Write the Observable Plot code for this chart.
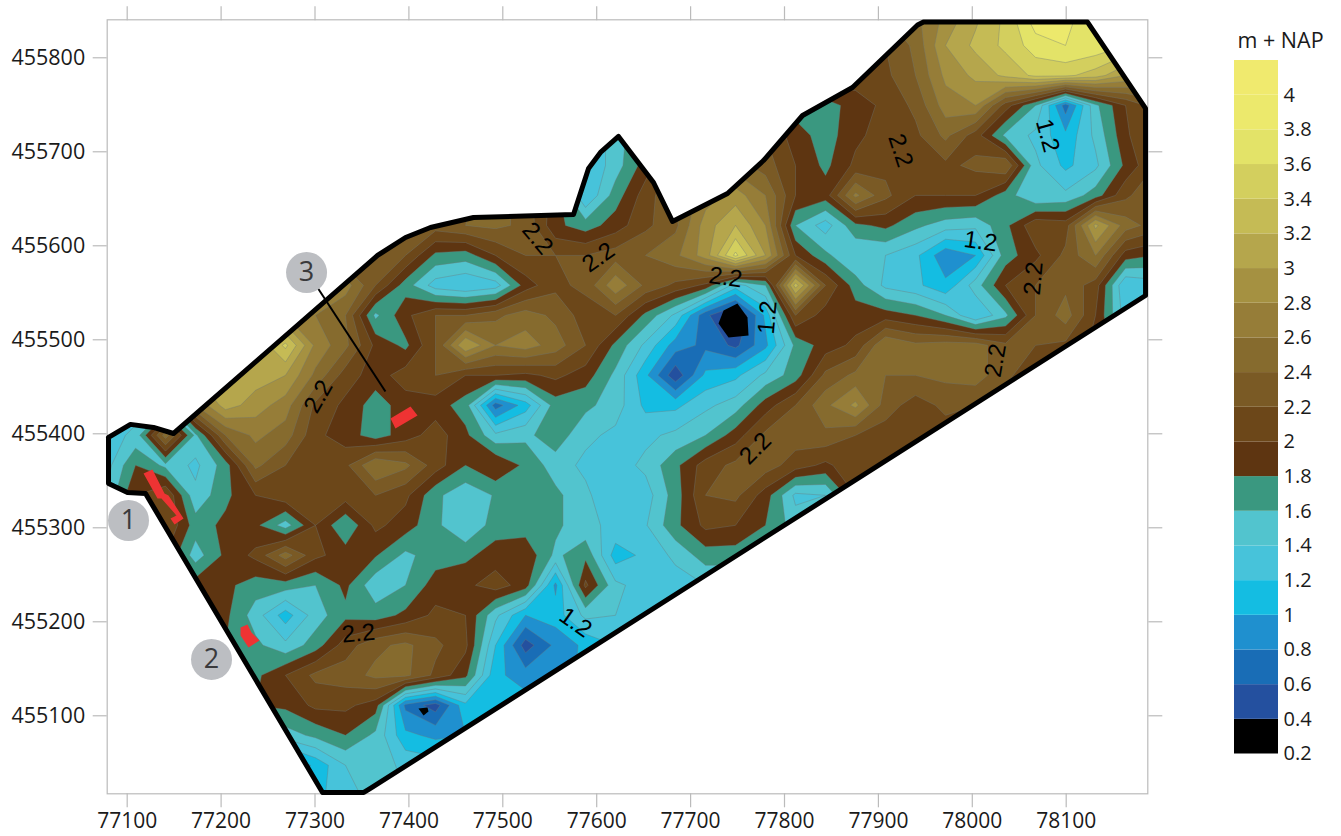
<!DOCTYPE html>
<html><head><meta charset="utf-8">
<style>html,body{margin:0;padding:0;background:#fff;overflow:hidden}#wrap{position:relative;width:1341px;height:836px}#wrap svg{position:absolute;top:0;overflow:visible}</style>
<script src="https://cdn.jsdelivr.net/npm/d3@7"></script>
<script src="https://cdn.jsdelivr.net/npm/@observablehq/plot@0.6"></script>
</head><body><div id="wrap"></div>
<script>
// Elevation (m + NAP) on a regular survey grid, north to south, west to east.
const y455845=[2.4,2.4,2.4,2.4,2.4,2.4,2.4,2.4,2.4,2.4,2.4,2.4,2.4,2.4,2.4,2.4,2.4,2.4,2.4,2.4,2.4,2.4,2.4,2.4,2.4,2.4,2.4,2.55,2.85,3.15,3.45,3.95,3.85,3.7,3.6,3.5];
const y455813=[2.3,2.3,2.3,2.3,2.3,2.3,2.3,2.3,2.3,2.3,2.3,2.3,2.3,2.3,2.3,2.3,2.3,2.3,2.3,2.3,2.3,2.3,2.3,2.3,2.3,2.3,2.2,2.45,3.0,3.25,3.45,3.7,3.8,3.75,3.6,3.4];
const y455781=[2.2,2.2,2.2,2.2,2.2,2.2,2.2,2.2,2.2,2.2,2.2,2.2,2.2,2.2,2.2,2.2,2.2,2.2,2.2,2.2,2.2,2.2,2.2,2.2,2.2,2.1,2.15,2.4,2.85,3.05,3.25,3.45,3.45,3.3,3,2.8];
const y455749=[2,2,2,2,2,2,2,2,2,2,2,2,2,2,2,2,2,2,2,2,2,2,2,1.7,1.7,1.9,2.05,2.25,2.7,2.8,2.1,1.6,0.7,1.55,2,2.3];
const y455717=[2,2,2,2,2,2,2,2,2,2,2,2,2,2,2,2,1.3,1.45,1.9,2.2,2.3,2.3,2.2,1.9,1.7,1.95,2.1,2.15,2.45,2.1,1.55,1.35,1.05,1.45,1.95,2.3];
const y455685=[2,2,2,2,2,2,2,2,2,2,2,2,2,2,2,2,1.2,1.5,1.9,2.3,2.4,2.5,2.3,2,1.75,2.05,2.15,2.2,2.15,2.25,2.4,1.45,1.15,1.35,1.85,2.2];
const y455653=[2.2,2.2,2.2,2.2,2.2,2.2,2.2,2.2,2.2,2.2,2.2,2.25,2.35,2.5,2.3,1.9,1.2,1.7,2.1,2.4,2.7,2.9,2.6,2,1.9,2.65,2.25,2,2,2,1.7,1.4,1.45,1.7,2.15,2.4];
const y455621=[2.2,2.2,2.2,2.2,2.2,2.2,2.2,2.2,2.2,2.2,2.2,2.3,2.4,2.45,2.35,1.85,1.7,1.9,2.15,2.35,2.9,3.2,2.8,1.6,1.3,1.75,1.85,1.65,1.5,1.45,1.75,2.15,2.1,3.05,2.5,2.3];
const y455589=[2.2,2.2,2.2,2.2,2.2,2.2,2.2,2.2,2.2,2.2,2.2,1.75,1.7,2,2.2,2.2,2.2,2.3,2.4,2.55,2.9,3.65,3,2,1.65,1.4,1.4,1.25,0.85,1,1.7,1.95,2.25,2.6,1.9,1.8];
const y455557=[2.8,2.8,2.8,2.8,2.8,2.8,2.8,2.8,2.7,2.2,1.7,1.3,1.2,1.3,1.9,2.15,2.25,2.75,2.35,2.15,1.95,1.3,1.6,3.3,2.2,1.7,1.35,1.25,1.05,1.5,2,2.2,2.35,2.1,1.2,1.3];
const y455525=[2.8,2.8,2.8,2.8,2.8,2.8,2.8,2.6,2.4,1.55,1.95,2.2,2.2,2.35,2.5,2.35,2.1,2.2,1.75,1.35,0.65,0.3,1.05,2.2,1.9,1.9,1.9,1.8,1.6,1.2,1.55,2.2,2.5,2,1.3,1.4];
const y455493=[3,3,3,3,3,3,3.45,2.75,2.45,1.95,1.75,2.2,3,2.6,2.7,2.5,2.2,1.75,1.35,0.9,0.75,0.55,0.95,1.65,1.9,2.05,2.6,2.45,2.5,2.5,2.25,2.2,2.15,1.95,1.6,1.5];
const y455461=[3,3,3,3,3,3.1,3,2.55,2.1,1.9,2.1,2.2,2,2,1.95,2.05,1.9,1.55,1.05,0.45,1.05,1.15,1.45,1.7,2.25,2.45,2.4,2.4,2.45,2.5,2.25,2.05,1.9,1.9,1.9,1.9];
const y455429=[1.2,1.3,1.5,2.6,3.1,2.9,2.7,2.15,1.95,1.7,1.9,1.9,1.7,0.7,1.1,1.7,1.65,1.5,1.15,1.15,1.35,1.5,1.9,2.2,2.55,2.85,2.3,2.1,2.25,2.2,2.1,2.1,2.1,2.1,2.1,2.1];
const y455397=[1.3,1.45,2.5,1.55,2.4,2.65,2.5,2.05,1.9,1.7,1.9,2.1,1.85,1.45,1.55,1.72,1.45,1.35,1.35,1.45,1.6,1.9,2.25,2.3,2.35,2.2,2.1,2.1,2.1,2.1,2.1,2.1,2.1,2.1,2.1,2.1];
const y455365=[1.3,1.8,1.55,1.35,1.7,2.45,2.2,2,2.15,2.6,2.45,2.1,1.8,2,1.75,1.5,1.35,1.3,1.45,1.75,2.1,2.25,2.3,2.1,1.95,2.15,2.1,2.1,2.1,2.1,2.1,2.1,2.1,2.1,2.1,2.1];
const y455333=[1.4,2,2.2,1.45,1.75,2,2.15,2,2.1,2.2,2.05,1.65,1.45,1.62,1.75,1.65,1.45,1.2,1.3,1.7,2.2,2.25,1.9,1.35,1.4,2,2,2,2,2,2,2,2,2,2,2];
const y455301=[2,2,2.2,1.7,1.85,1.85,1.5,2,1.62,2.05,1.9,1.65,1.4,1.7,1.7,1.65,1.45,1.35,1.38,1.75,2.05,2,1.8,1.5,1.6,1.6,1.6,1.6,1.6,1.6,1.6,1.6,1.6,1.6,1.6,1.6];
const y455269=[2,2,2,1.5,1.85,2.05,2.5,2.05,1.9,1.82,1.55,1.7,1.75,1.9,1.95,1.55,1.75,1.1,1.25,1.45,1.7,1.7,1.7,1.7,1.7,1.7,1.7,1.7,1.7,1.7,1.7,1.7,1.7,1.7,1.7,1.7];
const y455237=[1.9,1.9,1.9,1.9,1.85,1.7,1.7,1.6,1.85,1.45,1.6,1.9,1.95,2.1,1.9,0.95,2.05,1.45,1.3,1.3,1.4,1.4,1.4,1.4,1.4,1.4,1.4,1.4,1.4,1.4,1.4,1.4,1.4,1.4,1.4,1.4];
const y455205=[1.9,1.9,1.9,1.9,1.85,1.5,1.1,1.5,1.75,1.7,1.85,2.05,2,1.45,1,1.1,1.45,1.4,1.3,1.3,1.3,1.3,1.3,1.3,1.3,1.3,1.3,1.3,1.3,1.3,1.3,1.3,1.3,1.3,1.3,1.3];
const y455173=[1.8,1.8,1.8,1.8,1.8,1.65,1.45,1.7,2.1,2.35,2.45,2.25,2.05,1.2,0.5,0.85,1.05,1.2,1.2,1.2,1.2,1.2,1.2,1.2,1.2,1.2,1.2,1.2,1.2,1.2,1.2,1.2,1.2,1.2,1.2,1.2];
const y455141=[1.8,1.8,1.8,1.8,1.8,1.75,2,2.25,2.3,2.45,2.45,2.15,1.85,1.05,0.9,0.8,1.1,1.1,1.1,1.1,1.1,1.1,1.1,1.1,1.1,1.1,1.1,1.1,1.1,1.1,1.1,1.1,1.1,1.1,1.1,1.1];
const y455109=[1.8,1.8,1.8,1.8,1.8,1.8,1.85,2.05,2.05,1.9,0.75,0.5,1.15,1.1,1.1,1.1,1.1,1.1,1.1,1.1,1.1,1.1,1.1,1.1,1.1,1.1,1.1,1.1,1.1,1.1,1.1,1.1,1.1,1.1,1.1,1.1];
const y455077=[1.6,1.6,1.6,1.6,1.6,1.6,1.5,1.65,1.8,1.55,1.05,0.95,1,1.1,1.1,1.1,1.1,1.1,1.1,1.1,1.1,1.1,1.1,1.1,1.1,1.1,1.1,1.1,1.1,1.1,1.1,1.1,1.1,1.1,1.1,1.1];
const y455045=[1,1,1,1,1,1,0.75,1.05,1.4,1.5,1.35,1.3,1.3,1.3,1.3,1.3,1.3,1.3,1.3,1.3,1.3,1.3,1.3,1.3,1.3,1.3,1.3,1.3,1.3,1.3,1.3,1.3,1.3,1.3,1.3,1.3];
const y455013=[0.9,0.9,0.9,0.9,0.9,0.9,0.9,1.15,1.3,1.5,1.4,1.3,1.3,1.3,1.3,1.3,1.3,1.3,1.3,1.3,1.3,1.3,1.3,1.3,1.3,1.3,1.3,1.3,1.3,1.3,1.3,1.3,1.3,1.3,1.3,1.3];
const gridRows=[y455845,y455813,y455781,y455749,y455717,y455685,y455653,y455621,y455589,y455557,y455525,y455493,y455461,y455429,y455397,y455365,y455333,y455301,y455269,y455237,y455205,y455173,y455141,y455109,y455077,y455045,y455013];
const gridColumns=36;
const gridWest=77060.9, gridEast=78211.1, gridNorth=455861, gridSouth=454999.5;

// Scale bands
const levels=[0,0.4,0.6,0.8,1,1.2,1.4,1.6,1.8,2,2.2,2.4,2.6,2.8,3,3.2,3.4,3.6,3.8,4];
const thresholdDomain=[0.4,0.6,0.8,1,1.2,1.4,1.6,1.8,2,2.2,2.4,2.6,2.8,3,3.2,3.4,3.6,3.8,4];
const bandColors=["#000000","#24509f","#196db6","#1f90cf","#14bde2","#47c3da","#52c4ce","#3a9880","#5e3511","#6c4719","#7a5a25","#866b2e","#967d38","#a59141","#b5a64c","#c5bb55","#d3cf5e","#e3e368","#ece96c","#f0ea6e"];
const bandLow=[0.2,0.4,0.6,0.8,1,1.2,1.4,1.6,1.8,2,2.2,2.4,2.6,2.8,3,3.2,3.4,3.6,3.8,4];
const bandHigh=[0.4,0.6,0.8,1,1.2,1.4,1.6,1.8,2,2.2,2.4,2.6,2.8,3,3.2,3.4,3.6,3.8,4,4.2];
const legendTicks=[0.2,0.4,0.6,0.8,1,1.2,1.4,1.6,1.8,2,2.2,2.4,2.6,2.8,3,3.2,3.4,3.6,3.8,4];

// Axes
const xTicks=[77100,77200,77300,77400,77500,77600,77700,77800,77900,78000,78100];
const yTicks=[455100,455200,455300,455400,455500,455600,455700,455800];

// Survey area outline
const outlineX=[77080.1,77103.5,77128,77149.3,77366.6,77396.4,77423,77468.8,77575.3,77591.3,77604,77623.2,77660.5,77680.7,77739.3,77777.6,77819.2,77872.4,77941.7,77948,78122.7,78184.5,78184.5,77359,77352,77308,77119.5,77100.3,77080.1,77080.1];
const outlineY=[455396.1,455410,455406.7,455400.3,455589.7,455608.8,455619.4,455630.1,455633.3,455682.2,455699.3,455716.3,455667.3,455625.9,455655.6,455690.7,455738.6,455768.4,455834.8,455838,455838,455746.1,455547.1,455022.7,455018.4,455018.4,455336.5,455337.6,455347.1,455396.1];

// Deepest closures (below 0.4 m + NAP)
const pitId=[1,1,1,1,1,1,2,2,2,2];
const pitX=[77749.9,77760.6,77761.7,77740.4,77729.7,77735.1,77410.2,77419.8,77420.9,77415.6];
const pitY=[455538.6,455523.7,455504.6,455502.5,455517.3,455531.2,455107.8,455108.8,455104.6,455100.3];

// Red measurement sites
const siteId=[1,1,1,1,1,1,1,1,1,1,2,2,2,2,2,2,3,3,3,3];
const siteX=[77117.4,77126.9,77139.7,77144,77160,77150.4,77146.1,77152.5,77136.5,77132.3,77220.7,77228.1,77232.4,77240.9,77229.2,77220.7,77380.4,77401.7,77409.2,77385.7];
const siteY=[455357.8,455362,455336.5,455334.4,455309.9,455303.5,455309.9,455313.1,455331.2,455331.2,455194,455197.2,455188.7,455180.1,455172.7,455185.5,455416.3,455429.1,455419.5,455405.7];

// Numbered markers
const markerLabel=["1","2","3"];
const markerX=[77101.4,77189.8,77291];
const markerY=[455307.8,455160,455571.6];

// Contour labels
const contourText=["2.2","2.2","2.2","2.2","1.2","2.2","1.2","1.2","2.2","2.2","2.2","2.2","1.2"];
const contourX=[77303.7,77537,77601.9,77737.2,77781.9,77923.6,78080.1,78008.7,78065.2,78024.7,77769.1,77346.3,77577.4];
const contourY=[455439.7,455607.8,455587.6,455566.3,455523.7,455701.4,455717.3,455604.6,455565.2,455477.9,455384.4,455187.6,455199.3];
const contourAngle=[-60,50,-35,8,-85,72,75,8,-85,-80,-45,-5,35];

const idx=a=>a.map((_,i)=>i);
const grey="#bbbbbb", sans="'Open Sans','Noto Sans',sans-serif";
const ticksCommon={stroke:grey,fill:"#1a1a1a",tickSize:14,strokeWidth:1.2,label:null};

const chart=Plot.plot({
  width:1341,height:836,marginLeft:106.7,marginRight:193.7,marginTop:19.3,marginBottom:42.7,
  style:{fontFamily:sans,background:"transparent"},
  x:{domain:[77078.7,78186.9],label:null},
  y:{domain:[455017,455840.4],label:null},
  color:{type:"threshold",domain:thresholdDomain,range:bandColors},
  marks:[
    Plot.contour(gridRows.flat(),{width:gridColumns,height:gridRows.length,x1:gridWest,x2:gridEast,y1:gridNorth,y2:gridSouth,thresholds:levels,fill:Plot.identity,stroke:"#6f7a78",strokeWidth:0.7,strokeOpacity:0.55}),
    Plot.line(idx(pitId),{x:i=>pitX[i],y:i=>pitY[i],z:i=>pitId[i],fill:"#000",stroke:"none"}),
    Plot.frame({stroke:grey,strokeWidth:1.2}),
    Plot.axisX(xTicks,{...ticksCommon,fontSize:21,anchor:"bottom",tickPadding:5,tickFormat:d=>String(d)}),
    Plot.axisX(xTicks,{...ticksCommon,anchor:"top",tickFormat:()=>""}),
    Plot.axisY(yTicks,{...ticksCommon,fontSize:21.5,anchor:"left",tickPadding:8,tickFormat:d=>String(d)}),
    Plot.axisY(yTicks,{...ticksCommon,anchor:"right",tickFormat:()=>""}),
    Plot.link([0],{x1:()=>77302.6,y1:()=>455555.6,x2:()=>77375,y2:()=>455445,stroke:"#000",strokeWidth:2}),
    Plot.line(idx(outlineX),{x:i=>outlineX[i],y:i=>outlineY[i],stroke:"#000",strokeWidth:5,strokeLinejoin:"round"}),
    Plot.line(idx(siteId),{x:i=>siteX[i],y:i=>siteY[i],z:i=>siteId[i],fill:"#ee3333",stroke:"none"}),
    Plot.text(idx(contourText),{x:i=>contourX[i],y:i=>contourY[i],text:i=>contourText[i],rotate:i=>contourAngle[i],fontSize:24,fontFamily:"'Liberation Sans',sans-serif",fill:"#000"}),
    Plot.dot(idx(markerLabel),{x:i=>markerX[i],y:i=>markerY[i],r:20.5,fill:"#bcbec2",stroke:"none"}),
    Plot.text(idx(markerLabel),{x:i=>markerX[i],y:i=>markerY[i],text:i=>markerLabel[i],fontSize:27,fill:"#3a3a3c"})
  ]
});
// clip the contour bands to the survey outline using the plot's own scales
const sx=chart.scale("x"), sy=chart.scale("y");
const NS="http://www.w3.org/2000/svg";
const clip=document.createElementNS(NS,"clipPath");clip.setAttribute("id","survey-area");
const poly=document.createElementNS(NS,"polygon");
poly.setAttribute("points",outlineX.map((x,i)=>sx.apply(x)+","+sy.apply(outlineY[i])).join(" "));
clip.appendChild(poly);chart.appendChild(clip);
chart.querySelector('g[aria-label="contour"]').setAttribute("clip-path","url(#survey-area)");

const legend=Plot.plot({
  width:161,height:836,marginLeft:54,marginRight:63,marginTop:60,marginBottom:82.5,
  style:{fontFamily:sans,background:"transparent"},
  x:{axis:null,domain:[0,1]},
  y:{domain:[0.2,4.2],label:null},
  marks:[
    Plot.rect(idx(bandColors),{x1:()=>0,x2:()=>1,y1:i=>bandLow[i],y2:i=>bandHigh[i],fill:i=>bandColors[i]}),
    Plot.axisY(legendTicks,{anchor:"right",tickSize:0,tickPadding:5,fontSize:20,fill:"#1a1a1a",label:null,tickFormat:d=>String(d)}),
    Plot.text(["m + NAP"],{frameAnchor:"top-left",dx:3,dy:-28,fontSize:21.5,fill:"#1a1a1a",textAnchor:"start"})
  ]
});
legend.style.left="1180px";
const wrap=document.getElementById("wrap");
chart.style.left="0";
wrap.append(chart,legend);
</script></body></html>
